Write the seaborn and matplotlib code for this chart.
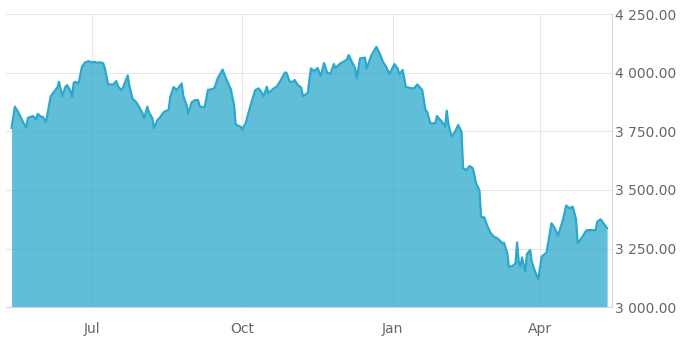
import matplotlib
matplotlib.use("Agg")
import matplotlib.pyplot as plt
import matplotlib.ticker as mticker
import pandas as pd
import seaborn as sns

# Daily index closes, dated as days counted from 1 July 2021
start = pd.Timestamp("2021-07-01")
day_offsets = [
    -49, -47, -45, -43, -42, -40, -39, -37, -36, -34,
    -33, -31, -30, -28, -25, -23, -21, -20, -18, -16,
    -15, -13, -12, -11, -10, -8, -6, -4, -2, 0,
    2, 3, 5, 7, 8, 10, 13, 15, 16, 18,
    19, 22, 23, 25, 27, 28, 31, 32, 34, 35,
    37, 38, 40, 42, 44, 47, 48, 50, 52, 54,
    55, 56, 58, 59, 61, 63, 65, 66, 69, 71,
    73, 75, 77, 80, 82, 85, 87, 88, 91, 92,
    94, 96, 98, 100, 102, 104, 105, 107, 108, 111,
    113, 115, 118, 119, 121, 123, 124, 126, 128, 129,
    132, 134, 136, 138, 140, 142, 144, 146, 148, 149,
    152, 154, 156, 157, 159, 161, 162, 164, 167, 168,
    171, 174, 176, 178, 180, 182, 185, 187, 188, 190,
    192, 195, 197, 199, 202, 204, 205, 207, 210, 211,
    214, 216, 217, 218, 220, 222, 224, 226, 227, 229,
    231, 233, 235, 237, 238, 240, 242, 244, 246, 248,
    251, 252, 254, 255, 257, 259, 260, 261, 262, 263,
    265, 266, 268, 269, 271, 273, 275, 278, 281, 283,
    285, 288, 290, 292, 294, 296, 297, 300, 302, 303,
    308, 309, 311, 315,
]
closes = [
    3763, 3855, 3833, 3805, 3790, 3766, 3807, 3812, 3815, 3802,
    3824, 3812, 3812, 3791, 3900, 3919, 3937, 3961, 3900, 3941,
    3947, 3922, 3897, 3957, 3961, 3954, 4025, 4044, 4049, 4044,
    4046, 4042, 4044, 4040, 4020, 3951, 3949, 3964, 3943, 3926,
    3934, 3988, 3943, 3888, 3876, 3866, 3828, 3805, 3855, 3830,
    3807, 3764, 3796, 3812, 3832, 3842, 3896, 3939, 3926, 3945,
    3954, 3900, 3862, 3824, 3873, 3883, 3883, 3856, 3852, 3926,
    3929, 3934, 3976, 4013, 3976, 3930, 3862, 3779, 3770, 3758,
    3784, 3833, 3883, 3926, 3933, 3915, 3897, 3940, 3912, 3932,
    3940, 3961, 4000, 4000, 3961, 3961, 3969, 3947, 3937, 3900,
    3913, 4018, 4007, 4020, 3986, 4041, 3998, 3997, 4037, 4020,
    4040, 4047, 4056, 4075, 4046, 4018, 3976, 4061, 4064, 4018,
    4075, 4110, 4082, 4046, 4025, 3994, 4037, 4018, 3993, 4011,
    3939, 3934, 3933, 3950, 3926, 3841, 3833, 3784, 3784, 3815,
    3791, 3770, 3838, 3781, 3727, 3748, 3777, 3748, 3592, 3585,
    3602, 3592, 3528, 3498, 3386, 3383, 3343, 3315, 3300, 3294,
    3273, 3275, 3230, 3173, 3175, 3187, 3277, 3194, 3173, 3212,
    3152, 3227, 3244, 3193, 3152, 3121, 3216, 3233, 3358, 3338,
    3306, 3372, 3434, 3422, 3429, 3376, 3273, 3301, 3325, 3329,
    3329, 3365, 3375, 3337,
]
month_ticks = ["2021-07-01", "2021-10-01", "2022-01-01", "2022-04-01"]
month_labels = ["Jul", "Oct", "Jan", "Apr"]
value_ticks = [3000, 3250, 3500, 3750, 4000, 4250]

df = pd.DataFrame({
    "date": start + pd.to_timedelta(day_offsets, unit="D"),
    "close": closes,
})

LINE = "#2ca8cc"
GRID = "#e6e6e6"
AXIS = "#ccd6eb"
LABEL = "#666666"

sns.set_theme(style="white")
plt.rcParams["font.family"] = ["DejaVu Sans"]

W, H = 683, 341
fig = plt.figure(figsize=(W / 100, H / 100), dpi=100)
ax = fig.add_axes([6 / W, 1 - 307.3 / H, (612 - 6) / W, (307.3 - 14) / H])

ax.fill_between(df["date"], value_ticks[0], df["close"], color=LINE,
                alpha=0.75, linewidth=0, zorder=2)
sns.lineplot(data=df, x="date", y="close", ax=ax, color=LINE,
             linewidth=1.6, zorder=3)

ax.set_ylim(value_ticks[0], value_ticks[-1])
ax.set_xlim(start + pd.Timedelta(days=-52.4), start + pd.Timedelta(days=318))

ax.set_xticks(pd.to_datetime(month_ticks))
ax.set_xticklabels(month_labels)
ax.set_yticks(value_ticks)
ax.yaxis.set_major_formatter(
    mticker.FuncFormatter(lambda v, _: f"{v:,.2f}".replace(",", " ")))
ax.yaxis.tick_right()

ax.set_axisbelow(True)
ax.grid(True, color=GRID, linewidth=0.75)

for side in ("left", "top"):
    ax.spines[side].set_visible(False)
for side in ("right", "bottom"):
    ax.spines[side].set_color(AXIS)
    ax.spines[side].set_linewidth(0.75)
    ax.spines[side].set_zorder(4)

ax.tick_params(axis="x", length=7.2, width=0.75, color=AXIS, pad=3.2,
               labelsize=10, labelcolor=LABEL)
ax.tick_params(axis="y", length=0, pad=2.2, labelsize=10, labelcolor=LABEL)
ax.set_xlabel("")
ax.set_ylabel("")

fig.savefig("out.png", dpi=100)
